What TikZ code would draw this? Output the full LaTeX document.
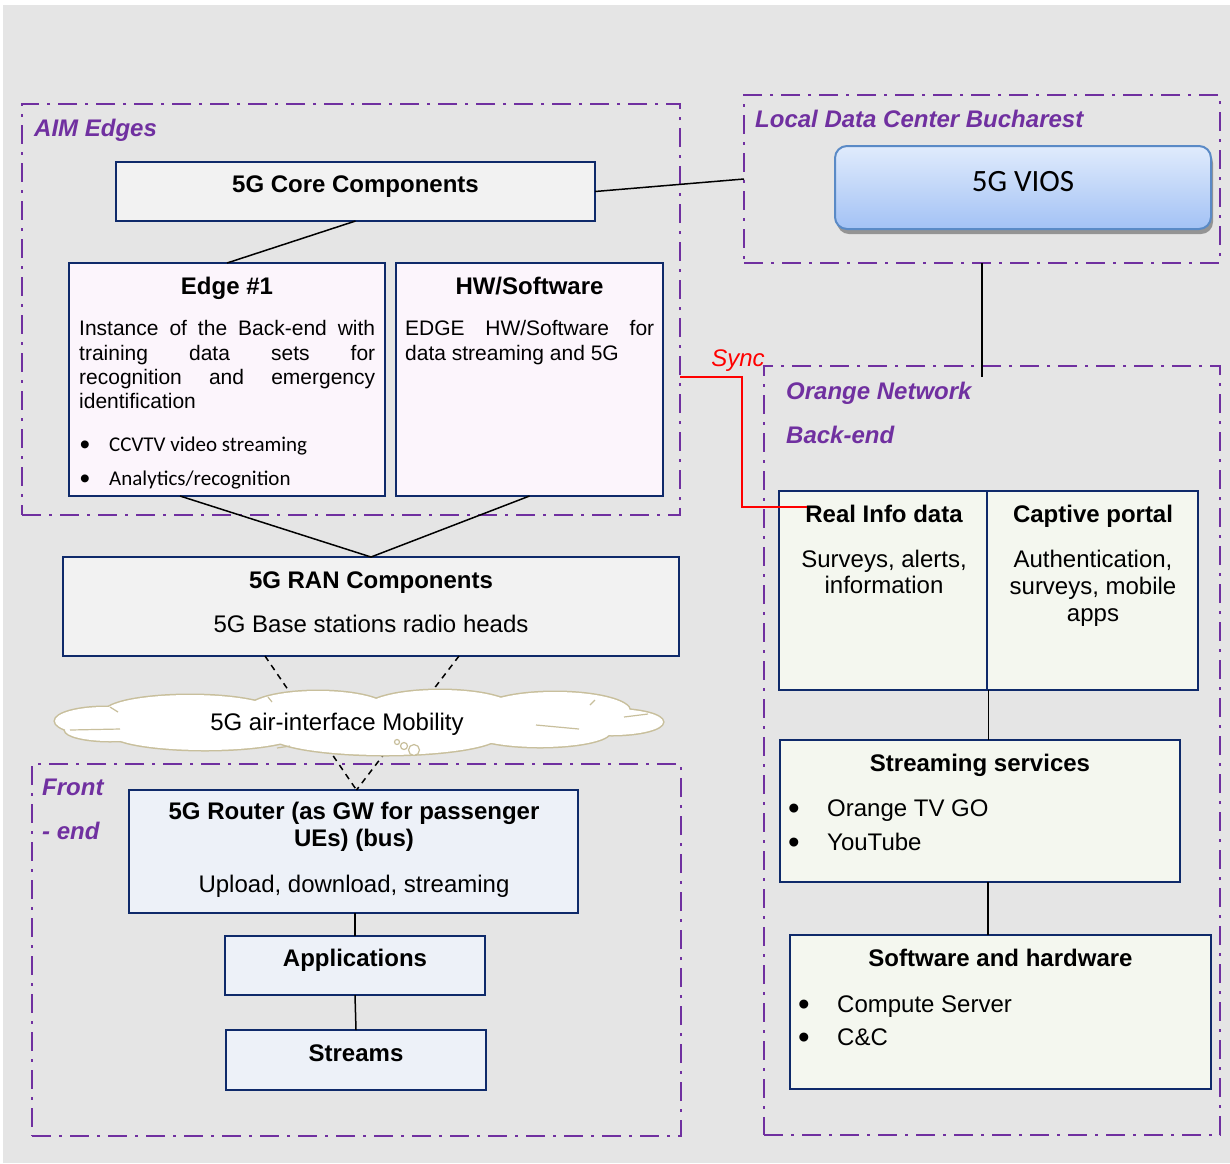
\documentclass[tikz,border=0pt]{standalone}
\usepackage{fontspec}
\setmainfont{Liberation Sans}
\newfontfamily\calfont{Carlito}
\usetikzlibrary{calc,shadows}

\definecolor{bggray}{HTML}{E5E5E5}
\definecolor{grpurple}{HTML}{7030A0}
\definecolor{navy}{HTML}{0F2A6A}
\definecolor{greyfill}{HTML}{F2F2F2}
\definecolor{pinkfill}{HTML}{FCF5FC}
\definecolor{bluefill}{HTML}{EDF1F8}
\definecolor{greenfill}{HTML}{F4F7EF}
\definecolor{cloudtan}{HTML}{C8BF9C}
\definecolor{viostop}{HTML}{E0EBFC}
\definecolor{viosbot}{HTML}{A3C2F5}
\definecolor{viosedge}{HTML}{5A8AC6}

\newcommand\sizeT{\fontsize{24}{28}\selectfont}
\newcommand\sizeS{\fontsize{21}{25}\selectfont}

\tikzset{
  group/.style={draw=grpurple, line width=2.8pt,
    dash pattern=on 19pt off 8pt on 3pt off 8pt, inner sep=0pt, outer sep=0pt},
  grouplabel/.style={anchor=base west, inner sep=0pt, text=grpurple,
    font=\sizeT\bfseries\itshape},
  box/.style={draw=navy, line width=2.5pt, inner sep=0pt, outer sep=0pt},
  title/.style={anchor=base, inner sep=0pt, font=\sizeT\bfseries},
  body/.style={anchor=base, inner sep=0pt, font=\sizeT},
  item/.style={anchor=base west, inner sep=0pt, font=\sizeT},
  small/.style={anchor=base west, inner sep=0pt, font=\sizeS},
  dotS/.style={anchor=base, inner sep=0pt, font=\fontsize{29}{30}\selectfont},
  dotT/.style={anchor=base, inner sep=0pt, font=\fontsize{33}{34}\selectfont},
  link/.style={draw=black, line width=1.5pt},
  radio/.style={draw=black, line width=1.5pt, dash pattern=on 6pt off 5pt},
  syncline/.style={draw=red, line width=1.8pt},
}

\begin{document}
\begin{tikzpicture}[x=1pt,y=-1pt]
\useasboundingbox (0,0) rectangle (1230,1163);
\fill[white] (0,0) rectangle (1230,1163);
\fill[bggray] (3,5) rectangle (1230,1163);

% ---------- group frames ----------
\node[group, minimum width=658pt, minimum height=411pt] (aim) at (351,309.5) {};
\node[group, minimum width=476pt, minimum height=168pt] (ldc) at (982,179) {};
\node[group, minimum width=456pt, minimum height=769pt] (orange) at (992,750.5) {};
\node[group, minimum width=649pt, minimum height=372pt] (front) at (356.5,950) {};

\node[grouplabel] (aimlbl) at (34,136.6) {AIM Edges};
\node[grouplabel] (ldclbl) at (755,127.6) {Local Data Center Bucharest};
\node[grouplabel] (orlbl1) at (786,399.6) {Orange Network};
\node[grouplabel] (orlbl2) at (786,443.6) {Back-end};
\node[grouplabel] (frlbl1) at (42,795.6) {Front};
\node[grouplabel] (frlbl2) at (42,839.6) {- end};

% ---------- AIM edges ----------
\node[box, fill=greyfill, minimum width=479pt, minimum height=59pt] (core) at (355.5,191.5) {};
\node[title] (coretxt) at (355.5,192.6) {5G Core Components};

\node[box, fill=pinkfill, minimum width=316pt, minimum height=233pt] (edge1) at (227,379.5) {};
\node[title] (e1title) at (227,294.6) {Edge \#1};
\node[small] (e1l1) at (79,335.5) {\makebox[296pt][s]{Instance of the Back-end with}};
\node[small] (e1l2) at (79,360) {\makebox[296pt][s]{training data sets for}};
\node[small] (e1l3) at (79,384.5) {\makebox[296pt][s]{recognition and emergency}};
\node[small] (e1l4) at (79,408.5) {identification};
\node[dotS] (e1d1) at (85,454) {•};
\node[small, font=\sizeS\calfont] (e1b1) at (109,451) {CCVTV video streaming};
\node[dotS] (e1d2) at (85,488) {•};
\node[small, font=\sizeS\calfont] (e1b2) at (109,485) {Analytics/recognition};

\node[box, fill=pinkfill, minimum width=267pt, minimum height=233pt] (hw) at (529.5,379.5) {};
\node[title] (hwtitle) at (529.5,294.6) {HW/Software};
\node[small] (hwl1) at (405,335.5) {\makebox[249pt][s]{EDGE HW/Software for}};
\node[small] (hwl2) at (405,360) {data streaming and 5G};

% ---------- RAN ----------
\node[box, fill=greyfill, minimum width=616pt, minimum height=99pt] (ran) at (371,606.5) {};
\node[title] (rantitle) at (371,588.6) {5G RAN Components};
\node[body] (ransub) at (371,632.6) {5G Base stations radio heads};

% ---------- local data center ----------
\node[draw=viosedge, line width=2pt, rounded corners=12pt,
      top color=viostop, bottom color=viosbot,
      minimum width=376pt, minimum height=83pt, inner sep=0pt, outer sep=0pt,
      drop shadow={shadow xshift=2pt, shadow yshift=-5pt, opacity=0.7, fill=black!55}]
      (vios) at (1023,187.5) {};
\node[anchor=base, inner sep=0pt, font=\fontsize{31}{36}\selectfont\calfont] (viostxt) at (1023,191) {5G VIOS};

% ---------- front-end ----------
\node[box, fill=bluefill, minimum width=449pt, minimum height=123pt] (router) at (353.5,851.5) {};
\node[title] (rt1) at (354,819.6) {5G Router (as GW for passenger};
\node[title] (rt2) at (354,846.6) {UEs) (bus)};
\node[body] (rtsub) at (354,892.6) {Upload, download, streaming};

\node[box, fill=bluefill, minimum width=260pt, minimum height=59pt] (app) at (355,965.5) {};
\node[title] (apptxt) at (355,966.6) {Applications};
\node[box, fill=bluefill, minimum width=260pt, minimum height=60pt] (streams) at (356,1060) {};
\node[title] (strtxt) at (356,1061.6) {Streams};

% ---------- back-end ----------
\node[box, fill=greenfill, minimum width=208pt, minimum height=199pt] (realbox) at (883,590.5) {};
\node[box, fill=greenfill, minimum width=211pt, minimum height=199pt] (portal) at (1092.5,590.5) {};
\node[title] (realtitle) at (884,522.6) {Real Info data};
\node[body] (real1) at (884,567.6) {Surveys, alerts,};
\node[body] (real2) at (884,593.6) {information};
\node[title] (porttitle) at (1093,522.6) {Captive portal};
\node[body] (port1) at (1093,567.6) {Authentication,};
\node[body] (port2) at (1093,594.6) {surveys, mobile};
\node[body] (port3) at (1093,621.6) {apps};

\node[box, fill=greenfill, minimum width=400pt, minimum height=142pt] (stream) at (980,811) {};
\node[title] (sttitle) at (980,771.6) {Streaming services};
\node[dotT] (std1) at (794,819.5) {•};
\node[item] (st1) at (827,816.6) {Orange TV GO};
\node[dotT] (std2) at (794,853.5) {•};
\node[item] (st2) at (827,850.6) {YouTube};

\node[box, fill=greenfill, minimum width=421pt, minimum height=154pt] (soft) at (1000.5,1012) {};
\node[title] (swtitle) at (1000.5,966.6) {Software and hardware};
\node[dotT] (swd1) at (804,1015.5) {•};
\node[item] (sw1) at (837,1012.6) {Compute Server};
\node[dotT] (swd2) at (804,1048.5) {•};
\node[item] (sw2) at (837,1045.6) {C\&C};

% ---------- connectors ----------
\draw[link] (core.east) -- (ldc.west);
\draw[link] (core.south) -- (edge1.north);
\draw[link] ([xshift=-47pt]edge1.south) -- (ran.north);
\draw[link] (hw.south) -- (ran.north);
\coordinate (vlink) at (982,377);
\draw[link] (ldc.south) -- (vlink);
\draw[link] ([xshift=1.5pt]portal.south west) -- ([xshift=1.5pt]portal.south west |- stream.north);
\draw[link] ([xshift=8pt]stream.south) -- ([xshift=8pt]stream.south |- soft.north);
\draw[link] (app.north |- router.south) -- (app.north);
\draw[link] (app.south) -- (streams.north);

% radio links through the air interface
\draw[radio] ([xshift=-106pt]ran.south) -- ([xshift=3pt]router.north);
\draw[radio] ([xshift=88pt]ran.south) -- ([xshift=3pt]router.north);

% sync link between the edge and the back-end
\coordinate (synctip) at (807,507);
\draw[syncline] ([yshift=-67.5pt]aim.east) -- ++(62,0) |- (synctip);
\node[anchor=base, inner sep=0pt, text=red, font=\sizeT\itshape] (synclbl) at (738,366.6) {Sync};

% ---------- air-interface cloud ----------
\foreach \cx/\cy/\rx/\ry in {105/721/50/14, 190/712/85/17, 318/709/70/18,
    440/709/75/19, 555/711/75/19, 612/722/51/13, 540/732/70/15,
    385/735/115/20, 205/733/95/17, 110/730/45/11}
  \draw[cloudtan, line width=3pt] (\cx,\cy) ellipse [x radius=\rx, y radius=\ry];
\foreach \cx/\cy/\rx/\ry in {105/721/50/14, 190/712/85/17, 318/709/70/18,
    440/709/75/19, 555/711/75/19, 612/722/51/13, 540/732/70/15,
    385/735/115/20, 205/733/95/17, 110/730/45/11}
  \fill[white] (\cx,\cy) ellipse [x radius=\rx, y radius=\ry];
\draw[cloudtan, line width=1.2pt] (70,730) -- (120,729);
\draw[cloudtan, line width=1.2pt] (536,725) -- (579,729);
\draw[cloudtan, line width=1.2pt] (624,717) -- (648,714);
\draw[cloudtan, line width=1.2pt] (110,707) -- (118,712);
\draw[cloudtan, line width=1.2pt] (268,697) -- (272,702);
\draw[cloudtan, line width=1.2pt] (595,700) -- (590,705);
\draw[cloudtan, line width=1.2pt] (277,748) -- (290,746);
\draw[cloudtan, line width=1.2pt, fill=white] (397,742) circle [radius=2.5];
\draw[cloudtan, line width=1.2pt, fill=white] (404,746) circle [radius=3.5];
\draw[cloudtan, line width=1.2pt, fill=white] (414,750) circle [radius=5.5];
\node[body] (air) at (337,730.6) {5G air-interface Mobility};

\end{tikzpicture}
\end{document}
